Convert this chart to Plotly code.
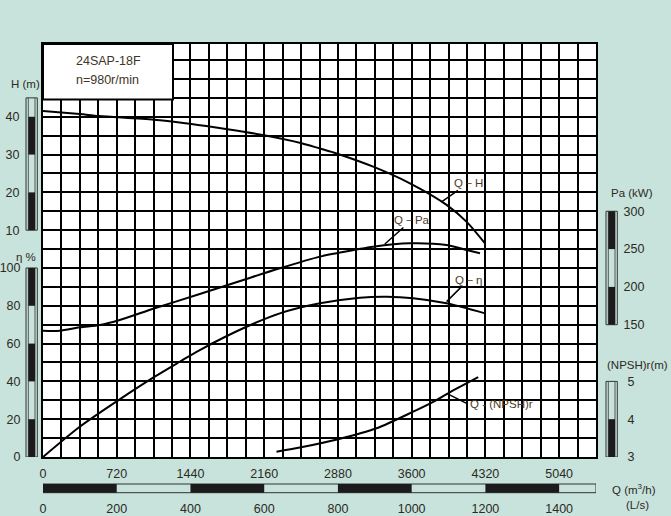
import plotly.graph_objects as go

# ---------------- data ----------------
q_h = [0, 359, 547, 1084, 1450, 1802, 2159, 2525, 2704, 2867, 3224, 3583, 3941, 4137, 4316]
head = [41.5, 40.7, 40.2, 39.2, 38.1, 36.7, 35.1, 33.0, 31.6, 30.3, 26.8, 22.4, 16.7, 12.2, 6.5]

q_pa = [0, 163, 359, 554, 749, 1091, 1531, 1759, 1987, 2313, 2704, 2867, 3224, 3583, 3941, 4137, 4267]
power = [142, 142, 146.5, 149.6, 156.2, 171.7, 190.6, 200.5, 210.5, 224.6, 240, 244.5, 253.2, 257.7, 255.4, 248.8, 244.5]

q_eta = [0, 359, 749, 1091, 1335, 1531, 1987, 2313, 2704, 3095, 3355, 3615, 3941, 4316]
eta = [0, 16, 30.5, 42.5, 50.4, 56.6, 68.9, 76, 81.3, 84.3, 84.8, 84, 81.3, 76]

q_npsh = [2280, 2508, 2882, 3257, 3615, 3810, 3973, 4250]
npsh = [3.14, 3.25, 3.47, 3.76, 4.20, 4.46, 4.71, 5.11]

q_ticks = [0, 720, 1440, 2160, 2880, 3600, 4320, 5040]
ls_ticks = [0, 200, 400, 600, 800, 1000, 1200, 1400]
h_ticks = [10, 20, 30, 40]
eta_ticks = [0, 20, 40, 60, 80, 100]
pa_ticks = [150, 200, 250, 300]
npsh_ticks = [3, 4, 5]

# ---------------- layout constants ----------------
W, H = 671, 516
L, T, PW, PH = 43, 44, 553, 413
R, B = W - L - PW, H - T - PH
UNITS = 21.85          # number of horizontal grid rows in plot height
BG = "#c7e3dc"
DARK = "#1b1b1b"
TXT = "#2d2a22"
LBL = "#4d3b1f"
FONT = "Liberation Sans, Arial, sans-serif"


def px(xp):
    return (xp - L) / PW


def py(yp):
    return (T + PH - yp) / PH


fig = go.Figure()
line = dict(color="black", width=2, shape="spline", smoothing=0.8)
fig.add_trace(go.Scatter(x=q_h, y=head, mode="lines", line=line, yaxis="y", hoverinfo="skip"))
fig.add_trace(go.Scatter(x=q_eta, y=eta, mode="lines", line=line, yaxis="y2", hoverinfo="skip"))
fig.add_trace(go.Scatter(x=q_pa, y=power, mode="lines", line=line, yaxis="y3", hoverinfo="skip"))
fig.add_trace(go.Scatter(x=q_npsh, y=npsh, mode="lines", line=line, yaxis="y4", hoverinfo="skip"))
# invisible trace to activate the L/s axis
fig.add_trace(go.Scatter(x=[0, 1500], y=[None, None], xaxis="x2", yaxis="y", mode="lines",
                         hoverinfo="skip", showlegend=False))

grid_x = list(range(0, 5401, 180))
grid_eta = list(range(0, 220, 10))
tickfont = dict(family=FONT, size=12.5, color=TXT)
clear = "rgba(0,0,0,0)"

fig.update_layout(
    template="none",
    width=W, height=H,
    margin=dict(l=L, r=R, t=T, b=B, pad=0),
    paper_bgcolor=BG, plot_bgcolor="white",
    showlegend=False,
    xaxis=dict(range=[0, 5400], tickmode="array", tickvals=grid_x,
               ticktext=[str(v) if v in q_ticks else " " for v in grid_x],
               showgrid=True, gridcolor="black", gridwidth=2, zeroline=False,
               showline=True, mirror=True, linecolor="black", linewidth=2,
               ticks="outside", ticklen=4, tickcolor=clear, tickfont=tickfont,
               automargin=False),
    xaxis2=dict(range=[0, 1500], overlaying="x", side="bottom", anchor="y",
                tickmode="array", tickvals=ls_ticks, ticktext=[str(v) for v in ls_ticks],
                showgrid=False, zeroline=False, showline=False,
                ticks="outside", ticklen=40, tickcolor=clear, tickfont=tickfont,
                automargin=False),
    yaxis=dict(range=[-50, -50 + 5 * UNITS], tickmode="array", tickvals=h_ticks,
               showgrid=False, zeroline=False, showline=True, mirror=True,
               linecolor="black", linewidth=2,
               ticks="outside", ticklen=19, tickcolor=clear, tickfont=tickfont,
               automargin=False),
    yaxis2=dict(range=[0, 10 * UNITS], overlaying="y", side="left", anchor="x",
                tickmode="array", tickvals=grid_eta,
                ticktext=[str(v) if v in eta_ticks else " " for v in grid_eta],
                showgrid=True, gridcolor="black", gridwidth=2, zeroline=False, showline=False,
                ticks="outside", ticklen=19, tickcolor=clear, tickfont=tickfont,
                automargin=False),
    yaxis3=dict(range=[-25, -25 + 25 * UNITS], overlaying="y", side="right", anchor="x",
                tickmode="array", tickvals=pa_ticks, showgrid=False, zeroline=False,
                showline=False, ticks="outside", ticklen=24, tickcolor=clear, tickfont=tickfont,
                automargin=False),
    yaxis4=dict(range=[3, 3 + 0.5 * UNITS], overlaying="y", side="right", anchor="x",
                tickmode="array", tickvals=npsh_ticks, showgrid=False, zeroline=False,
                showline=False, ticks="outside", ticklen=28, tickcolor=clear, tickfont=tickfont,
                automargin=False),
)

shapes = []
# title box (white, hides the grid)
shapes.append(dict(type="rect", xref="paper", yref="paper", x0=0, x1=px(173), y0=py(99.5), y1=1,
                   fillcolor="white", line=dict(color="black", width=2), layer="above"))


def side_bar(x_left, x_right, yref, lo, hi, dark_segments):
    xo0, xo1 = px(x_left), px(x_right)
    xi0, xi1 = px(x_left + 2.3), px(x_right - 2.3)
    shapes.append(dict(type="rect", xref="paper", yref=yref, x0=xo0, x1=xo1, y0=lo, y1=hi,
                       fillcolor=BG, line=dict(color="#333333", width=1), layer="above"))
    for xi in (xi0, xi1):
        shapes.append(dict(type="line", xref="paper", yref=yref, x0=xi, x1=xi, y0=lo, y1=hi,
                           line=dict(color="#555555", width=1), layer="above"))
    for a, b in dark_segments:
        shapes.append(dict(type="rect", xref="paper", yref=yref, x0=xi0, x1=xi1, y0=a, y1=b,
                           fillcolor=DARK, line=dict(width=0), layer="above"))


side_bar(26, 37.3, "y", 10, 45, [(10, 20), (30, 40)])
side_bar(26, 37.3, "y2", 0, 100, [(0, 20), (40, 60), (80, 100)])
side_bar(606, 617.3, "y3", 150, 300, [(150, 200), (250, 300)])
side_bar(606, 617.3, "y4", 3, 5, [(3, 4)])

# Q scale bar (L/s)
qy0, qy1 = py(492.7), py(484)
shapes.append(dict(type="rect", xref="x2", yref="paper", x0=0, x1=1500, y0=qy0, y1=qy1,
                   fillcolor=BG, line=dict(color="#333333", width=1), layer="above"))
for a in range(0, 1500, 400):
    shapes.append(dict(type="rect", xref="x2", yref="paper", x0=a, x1=min(a + 200, 1500),
                       y0=qy0, y1=qy1, fillcolor=DARK, line=dict(width=0), layer="above"))
fig.update_layout(shapes=shapes)

ann = []
small = dict(family=FONT, size=11.5, color=TXT)
for text, x, y in [("H (m)", 25, 84), ("η %", 26, 257), ("Pa (kW)", 632, 193),
                   ("(NPSH)r(m)", 637, 365), ("Q (m<sup>3</sup>/h)", 634, 489), ("(L/s)", 637, 505)]:
    ann.append(dict(text=text, xref="paper", yref="paper", x=px(x), y=py(y),
                    showarrow=False, font=small, xanchor="center", yanchor="middle"))
for text, y in [("24SAP-18F", 61), ("n=980r/min", 80)]:
    ann.append(dict(text=text, xref="paper", yref="paper", x=px(74), y=py(y), showarrow=False,
                    font=dict(family=FONT, size=12.5, color="#3d3526"),
                    xanchor="left", yanchor="middle"))

lblfont = dict(family=FONT, size=11.5, color=LBL)
for text, x, y, yr, ax, ay, xa in [("Q－H", 3892, 17.5, "y", 27, -19, "center"),
                                   ("Q－Pa", 3338, 256.8, "y3", 27, -24, "center"),
                                   ("Q－η", 3941, 82.2, "y2", 22, -22, "center"),
                                   ("Q - (NPSH)r", 3941, 4.685, "y4", 21, 10.5, "left")]:
    ann.append(dict(text=text, xref="x", yref=yr, x=x, y=y, ax=ax, ay=ay, showarrow=True,
                    arrowhead=0, arrowwidth=1.5, arrowcolor="black", standoff=0,
                    font=lblfont, xanchor=xa, yanchor="middle"))
fig.update_layout(annotations=ann)

fig.write_html(
    "out.html",
    config={"displayModeBar": False},
    post_script="document.body.style.margin='0';document.body.style.overflow='hidden';"
                "document.body.style.background='" + BG + "';",
)
